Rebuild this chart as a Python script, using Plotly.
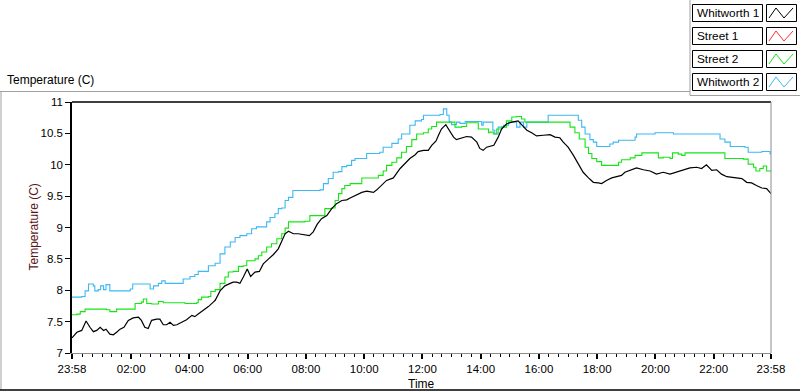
import datetime as dt
import plotly.graph_objects as go

# ---------------- data (minutes after 23:58 start, temperature in C) ----------------
START = dt.datetime(2013, 1, 1, 23, 58)

SERIES_NAMES = ["Whitworth 1", "Street 1", "Street 2", "Whitworth 2"]
SERIES_COLORS = ["#000000", "#ff3030", "#14e614", "#3cb8f5"]

W1_MIN = [0,10,20,29,37,44,51,58,65,70,78,85,92,99,107,116,126,137,143,150,
          157,164,174,181,188,195,202,209,216,226,236,247,253,260,271,281,291,295,305,315,
          326,332,339,346,353,361,368,377,386,394,405,415,425,432,439,446,456,466,477,489,
          497,505,514,525,535,545,556,566,573,583,597,607,621,628,638,648,662,669,676,686,
          696,707,713,724,734,741,750,755,761,770,777,786,792,803,813,823,834,840,847,854,
          864,869,878,885,895,906,919,926,937,947,957,971,985,995,1005,1012,1022,1033,1043,1053,
          1064,1074,1084,1091,1101,1112,1122,1132,1139,1150,1163,1177,1191,1204,1218,1232,1246,1259,1273,1287,
          1297,1307,1318,1328,1338,1349,1359,1369,1380,1390,1400,1410,1421,1431,1440]
W1_VAL = [7.24,7.33,7.36,7.51,7.41,7.34,7.36,7.41,7.36,7.38,7.30,7.29,7.33,7.38,7.41,7.52,7.56,7.57,7.52,7.41,
          7.39,7.52,7.54,7.54,7.45,7.45,7.49,7.44,7.45,7.49,7.53,7.60,7.58,7.62,7.68,7.74,7.81,7.84,7.99,8.07,
          8.11,8.13,8.13,8.11,8.21,8.34,8.22,8.29,8.30,8.42,8.50,8.57,8.66,8.77,8.90,8.94,8.90,8.90,8.89,8.87,
          8.93,9.05,9.14,9.19,9.30,9.38,9.43,9.44,9.47,9.51,9.56,9.58,9.56,9.60,9.67,9.75,9.79,9.86,9.94,10.02,
          10.10,10.16,10.21,10.23,10.23,10.31,10.38,10.47,10.57,10.64,10.55,10.44,10.40,10.43,10.45,10.44,10.36,10.26,10.23,10.28,
          10.30,10.31,10.44,10.57,10.65,10.68,10.70,10.64,10.55,10.51,10.46,10.47,10.48,10.44,10.43,10.36,10.28,10.15,10.02,9.88,
          9.79,9.72,9.71,9.70,9.75,9.79,9.81,9.83,9.88,9.91,9.95,9.92,9.90,9.85,9.88,9.85,9.88,9.92,9.95,9.96,
          9.94,10.00,9.91,9.92,9.85,9.81,9.80,9.79,9.78,9.72,9.71,9.67,9.63,9.62,9.54]

S1_MIN = []   # Street 1: no visible data in the chart
S1_VAL = []

S2_MIN = [0,10,17,27,51,71,78,92,126,130,143,147,154,164,178,188,222,233,257,260,
          267,281,286,295,305,315,322,332,343,353,360,377,384,391,401,411,422,432,439,446,
          466,480,490,511,521,535,542,549,556,562,573,583,597,624,631,641,648,659,669,679,
          689,700,710,724,734,741,751,779,789,803,813,827,837,847,858,861,868,875,885,895,
          906,916,926,933,1019,1026,1036,1045,1057,1064,1071,1081,1091,1115,1126,1132,1143,1150,1160,1174,
          1201,1208,1218,1232,1237,1249,1256,1263,1338,1345,1383,1393,1404,1409,1417,1424,1431,1440]
S2_VAL = [7.61,7.62,7.66,7.70,7.70,7.69,7.66,7.70,7.70,7.79,7.81,7.86,7.79,7.78,7.82,7.80,7.80,7.79,7.80,7.85,
          7.89,7.90,7.98,8.01,8.11,8.21,8.29,8.30,8.38,8.39,8.47,8.50,8.55,8.61,8.69,8.74,8.82,8.90,8.99,9.09,
          9.09,9.10,9.19,9.19,9.30,9.31,9.43,9.54,9.62,9.67,9.70,9.70,9.79,9.79,9.83,9.90,9.99,10.04,10.11,10.20,
          10.29,10.40,10.49,10.51,10.57,10.61,10.68,10.68,10.60,10.61,10.67,10.67,10.57,10.57,10.51,10.52,10.49,10.57,10.60,10.70,
          10.76,10.77,10.73,10.68,10.68,10.60,10.51,10.41,10.28,10.18,10.10,10.05,9.99,9.99,10.04,10.08,10.08,10.11,10.15,10.19,
          10.19,10.11,10.12,10.10,10.19,10.17,10.15,10.19,10.19,10.10,10.09,10.01,9.96,9.90,9.94,9.98,9.90,9.89]

W2_MIN = [0,20,27,34,44,47,54,59,65,70,78,113,120,125,150,161,168,178,185,192,
          222,229,243,253,260,274,281,295,305,315,326,336,346,360,370,380,394,401,408,418,
          425,432,439,446,455,490,511,518,528,538,549,556,566,576,583,604,607,634,641,659,
          672,679,696,707,720,724,758,765,772,777,782,792,799,810,840,844,847,861,867,871,
          878,889,899,909,916,923,930,937,978,981,1036,1043,1050,1057,1067,1074,1081,1105,1108,1115,
          1126,1150,1160,1163,1201,1239,1328,1335,1345,1356,1386,1393,1414,1421,1438,1440]
W2_VAL = [7.89,7.90,7.99,8.10,8.07,7.99,8.01,8.07,8.01,8.09,7.99,7.99,8.02,8.10,8.10,8.02,8.07,8.11,8.15,8.11,
          8.11,8.18,8.22,8.25,8.30,8.30,8.39,8.43,8.58,8.69,8.77,8.84,8.87,8.90,8.98,9.01,9.01,9.09,9.16,9.22,
          9.30,9.31,9.43,9.48,9.59,9.59,9.60,9.70,9.78,9.88,9.89,9.97,9.99,10.07,10.10,10.10,10.18,10.20,10.28,10.34,
          10.41,10.49,10.63,10.70,10.72,10.79,10.80,10.89,10.79,10.68,10.64,10.68,10.66,10.69,10.69,10.63,10.68,10.68,10.55,10.49,
          10.60,10.63,10.68,10.68,10.60,10.68,10.60,10.68,10.68,10.79,10.79,10.71,10.60,10.49,10.40,10.36,10.29,10.29,10.33,10.36,
          10.39,10.39,10.44,10.49,10.51,10.49,10.49,10.41,10.36,10.29,10.28,10.20,10.20,10.21,10.18,10.16]

Y_TICKS = [7, 7.5, 8, 8.5, 9, 9.5, 10, 10.5, 11]
Y_TICK_TEXT = ["7", "7.5", "8", "8.5", "9", "9.5", "10", "10.5", "11"]
X_TICK_HOURS = [2, 4, 6, 8, 10, 12, 14, 16, 18, 20, 22]

SERIES = [(W1_MIN, W1_VAL), (S1_MIN, S1_VAL), (S2_MIN, S2_VAL), (W2_MIN, W2_VAL)]
SERIES_SHAPE = ["linear", "hv", "hv", "hv"]

# ---------------- figure ----------------
W, H = 800, 392
L, R, T, B = 72, 29, 102, 39
PW, PH = W - L - R, H - T - B


def px(x):
    return (x - L) / PW


def py(y):
    return (H - B - y) / PH


def to_time(mins):
    return [START + dt.timedelta(minutes=m) for m in mins]


fig = go.Figure()
# draw in order so black sits on top
for idx in [3, 2, 1, 0]:
    mins, vals = SERIES[idx]
    assert len(mins) == len(vals), SERIES_NAMES[idx]
    fig.add_trace(go.Scatter(
        x=to_time(mins), y=vals, mode="lines", name=SERIES_NAMES[idx],
        line=dict(color=SERIES_COLORS[idx], width=1.2 if idx == 0 else 1.1,
                  shape=SERIES_SHAPE[idx]),
        showlegend=False, hoverinfo="skip"))

END = START + dt.timedelta(minutes=1440)
next_day = dt.datetime(2013, 1, 2)
tickvals = [START] + [next_day + dt.timedelta(hours=h) for h in X_TICK_HOURS] + [END]
ticktext = ["23:58"] + ["%02d:00" % h for h in X_TICK_HOURS] + ["23:58"]
minor_vals = []
t = next_day
while t < END:
    if t.minute != 0 or t.hour % 2 != 0:
        minor_vals.append(t)
    t += dt.timedelta(minutes=20)

FONT = "Liberation Sans, Arial, sans-serif"

fig.update_layout(
    width=W, height=H,
    margin=dict(l=L, r=R, t=T, b=B, pad=0),
    paper_bgcolor="white", plot_bgcolor="white",
    font=dict(family=FONT, size=11.5, color="black"),
    showlegend=False,
    xaxis=dict(
        type="date", range=[START, END],
        tickmode="array", tickvals=tickvals, ticktext=ticktext,
        ticks="outside", ticklen=5, tickwidth=2, tickcolor="black",
        minor=dict(tickmode="array", tickvals=minor_vals, ticks="outside",
                   ticklen=3, tickwidth=1, tickcolor="black", showgrid=False),
        showgrid=False, zeroline=False,
        showline=True, linecolor="#8c8c8c", linewidth=1,
        tickfont=dict(size=11.5), fixedrange=True,
    ),
    yaxis=dict(
        range=[7, 11], tickmode="array", tickvals=Y_TICKS, ticktext=Y_TICK_TEXT,
        ticks="outside", ticklen=5, tickwidth=1, tickcolor="black",
        showgrid=False, zeroline=False,
        showline=True, linecolor="black", linewidth=1.5,
        tickfont=dict(size=11.5), fixedrange=True,
    ),
)

shapes = []
# plot-area top (black) and right (gray) edges
shapes.append(dict(type="line", xref="paper", yref="paper", x0=0, x1=1, y0=1, y1=1,
                   line=dict(color="black", width=1.5)))
shapes.append(dict(type="line", xref="paper", yref="paper", x0=1, x1=1, y0=0, y1=1,
                   line=dict(color="#8c8c8c", width=1)))
# outer frame
GRAY = "#a0a0a0"
shapes.append(dict(type="line", xref="paper", yref="paper", x0=px(0), x1=px(690),
                   y0=py(91.5), y1=py(91.5), line=dict(color=GRAY, width=1)))
shapes.append(dict(type="line", xref="paper", yref="paper", x0=px(1), x1=px(1),
                   y0=py(91.5), y1=py(390), line=dict(color=GRAY, width=1)))
shapes.append(dict(type="line", xref="paper", yref="paper", x0=px(0), x1=px(800),
                   y0=py(390), y1=py(390), line=dict(color="black", width=1.5)))
# legend panel border
shapes.append(dict(type="line", xref="paper", yref="paper", x0=px(690), x1=px(690),
                   y0=py(0), y1=py(95.5), line=dict(color=GRAY, width=1)))
shapes.append(dict(type="line", xref="paper", yref="paper", x0=px(690), x1=px(800),
                   y0=py(95.5), y1=py(95.5), line=dict(color=GRAY, width=1)))

annotations = []
for i, name in enumerate(SERIES_NAMES):
    cy = 13 + 23 * i
    top, bot = cy - 8.5, cy + 8.5
    shapes.append(dict(type="rect", xref="paper", yref="paper",
                       x0=px(692.5), x1=px(762.5), y0=py(bot), y1=py(top),
                       line=dict(color="black", width=1), fillcolor="white"))
    shapes.append(dict(type="rect", xref="paper", yref="paper",
                       x0=px(766.5), x1=px(796.5), y0=py(bot), y1=py(top),
                       line=dict(color="black", width=1), fillcolor="white"))
    zx = [769, 776, 784, 793]
    zy = [cy + 5, cy - 5, cy + 5, cy - 5]
    path = "M " + " L ".join("%.5f,%.5f" % (px(a), py(b)) for a, b in zip(zx, zy))
    shapes.append(dict(type="path", xref="paper", yref="paper", path=path,
                       line=dict(color=SERIES_COLORS[i], width=1)))
    annotations.append(dict(xref="paper", yref="paper", x=px(695), y=py(cy),
                            xanchor="left", yanchor="middle", showarrow=False,
                            text=name, font=dict(size=11.8, color="black")))

annotations.append(dict(xref="paper", yref="paper", x=px(5), y=py(80),
                        xanchor="left", yanchor="middle", showarrow=False,
                        text="Temperature (C)", font=dict(size=12, color="black")))
annotations.append(dict(xref="paper", yref="paper", x=px(33), y=py(227.5),
                        xanchor="center", yanchor="middle", showarrow=False, textangle=-90,
                        text="Temperature (C)", font=dict(size=12, color="#5a1414")))
annotations.append(dict(xref="paper", yref="paper", x=0.5, y=py(384),
                        xanchor="center", yanchor="middle", showarrow=False,
                        text="Time", font=dict(size=12, color="black")))

fig.update_layout(shapes=shapes, annotations=annotations)
fig.write_html("out.html", config={"displayModeBar": False},
               post_script="document.body.style.margin='0px';document.body.style.overflow='hidden';")
